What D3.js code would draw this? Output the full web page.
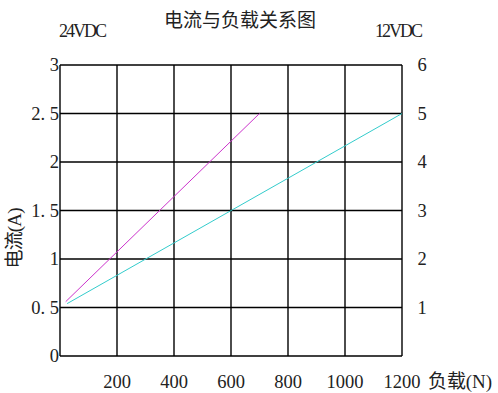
<!DOCTYPE html>
<html>
<head>
<meta charset="utf-8">
<script src="https://cdn.jsdelivr.net/npm/d3@7"></script>
<style>
body { margin: 0; background: #fff; }
text { font-family: "Liberation Serif", "Noto Sans CJK SC", serif; fill: #222; }
</style>
</head>
<body>
<script>
var xTicks = [0, 200, 400, 600, 800, 1000, 1200];
var xLabels = ["", "200", "400", "600", "800", "1000", "1200"];
var leftTicks = [0, 0.5, 1, 1.5, 2, 2.5, 3];
var leftLabels = ["0", "0. 5", "1", "1. 5", "2", "2. 5", "3"];
var rightTicks = [0, 1, 2, 3, 4, 5, 6];
var rightLabels = ["", "1", "2", "3", "4", "5", "6"];

// 24VDC uses left axis, 12VDC uses right axis
var line24 = [[20, 0.56], [700, 2.5]];
var line12 = [[25, 1.08], [1200, 5]];

var svg = d3.select("body").append("svg")
  .attr("width", 498)
  .attr("height", 393);

var x = d3.scaleLinear().domain([0, 1200]).range([60, 402]);
var yL = d3.scaleLinear().domain([0, 3]).range([356, 65]);
var yR = d3.scaleLinear().domain([0, 6]).range([356, 65]);

// grid
svg.selectAll("line.v")
  .data(xTicks)
  .enter().append("line")
  .attr("x1", function(d) { return x(d); })
  .attr("x2", function(d) { return x(d); })
  .attr("y1", yL(0))
  .attr("y2", yL(3))
  .attr("stroke", "#000")
  .attr("stroke-width", 1.4);
svg.selectAll("line.h")
  .data(leftTicks)
  .enter().append("line")
  .attr("x1", x(0))
  .attr("x2", x(1200))
  .attr("y1", function(d) { return yL(d); })
  .attr("y2", function(d) { return yL(d); })
  .attr("stroke", "#000")
  .attr("stroke-width", 1.4);

// series
var lineL = d3.line()
  .x(function(d) { return x(d[0]); })
  .y(function(d) { return yL(d[1]); });
var lineR = d3.line()
  .x(function(d) { return x(d[0]); })
  .y(function(d) { return yR(d[1]); });
svg.append("path").attr("d", lineL(line24))
  .attr("fill", "none").attr("stroke", "#cc33cc").attr("stroke-width", 1);
svg.append("path").attr("d", lineR(line12))
  .attr("fill", "none").attr("stroke", "#33cccc").attr("stroke-width", 1);

// tick labels
svg.selectAll("text.xl")
  .data(xTicks)
  .enter().append("text")
  .attr("x", function(d) { return x(d); })
  .attr("y", 388)
  .attr("text-anchor", "middle")
  .attr("font-size", 18.5)
  .text(function(d, i) { return xLabels[i]; });
svg.selectAll("text.ll")
  .data(leftTicks)
  .enter().append("text")
  .attr("x", 59)
  .attr("y", function(d) { return yL(d); })
  .attr("dy", "0.35em")
  .attr("text-anchor", "end")
  .attr("font-size", 18.5)
  .text(function(d, i) { return leftLabels[i]; });
svg.selectAll("text.rl")
  .data(rightTicks)
  .enter().append("text")
  .attr("x", 422)
  .attr("y", function(d) { return yR(d); })
  .attr("dy", "0.35em")
  .attr("text-anchor", "middle")
  .attr("font-size", 18.5)
  .text(function(d, i) { return rightLabels[i]; });

// titles
svg.append("text").attr("x", 240).attr("y", 27)
  .attr("text-anchor", "middle").attr("font-size", 19).text("电流与负载关系图");
svg.append("text").attr("x", 83).attr("y", 37)
  .attr("text-anchor", "middle").attr("font-size", 18).attr("textLength", 48).text("24VDC");
svg.append("text").attr("x", 399).attr("y", 37)
  .attr("text-anchor", "middle").attr("font-size", 18).attr("textLength", 48).text("12VDC");
svg.append("text").attr("x", 428).attr("y", 388)
  .attr("font-size", 19).attr("textLength", 64).text("负载(N)");
svg.append("text")
  .attr("transform", "translate(21,238) rotate(-90)")
  .attr("text-anchor", "middle").attr("font-size", 19).attr("textLength", 61).text("电流(A)");
</script>
</body>
</html>
